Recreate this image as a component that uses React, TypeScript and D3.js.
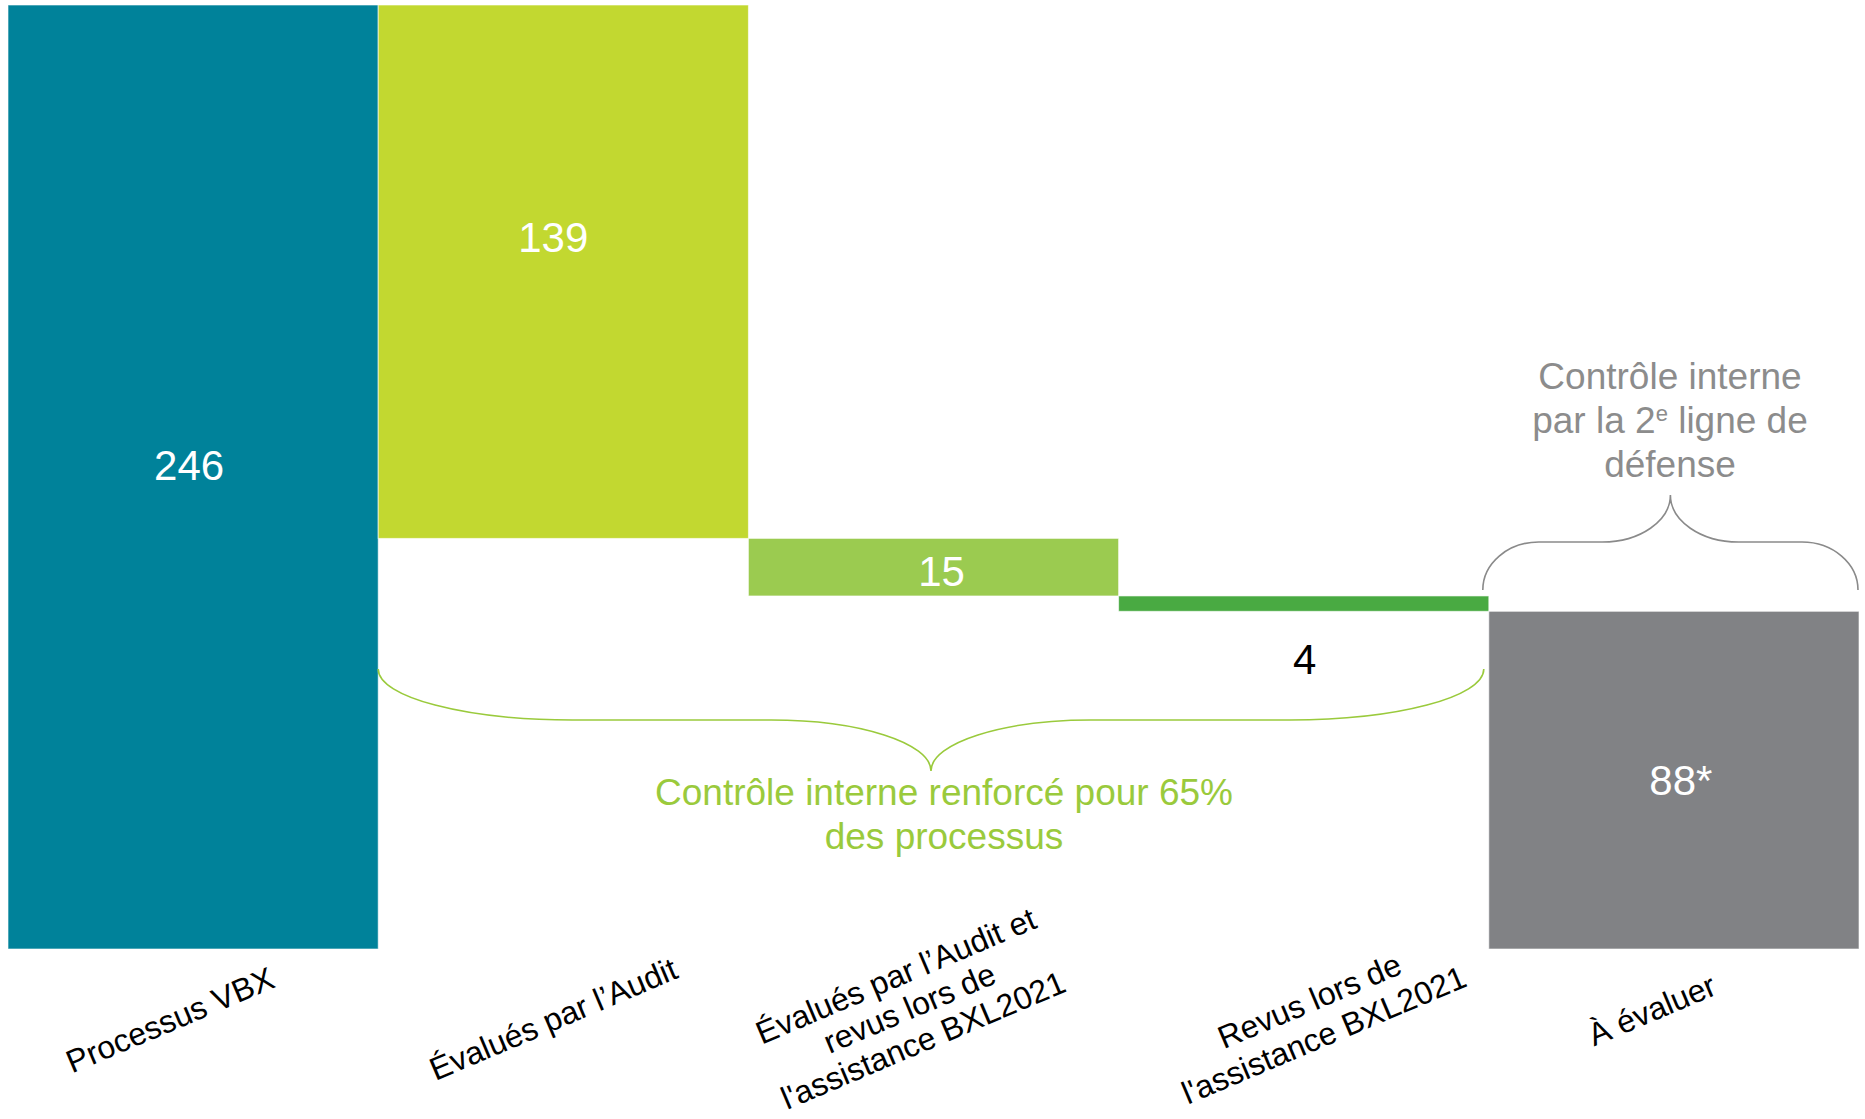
import React from "react";
import * as d3 from "d3";

const categories: string[][] = [
  ["Processus VBX"],
  ["Évalués par l’Audit"],
  ["Évalués par l’Audit et", "revus lors de", "l'assistance BXL2021"],
  ["Revus lors de", "l'assistance BXL2021"],
  ["À évaluer"],
];
const values = [246, 139, 15, 4, 88];
const valueLabels = ["246", "139", "15", "4", "88*"];
const kinds = ["total", "step", "step", "step", "rest"];
const colors = ["#00829A", "#C2D830", "#9BCB50", "#49AA42", "#818285"];
const labelColors = ["#ffffff", "#ffffff", "#ffffff", "#000000", "#ffffff"];

const W = 1865;
const H = 1119;

// layout nudges (px) for text placement
const valueNudgeX = [-4, -10, 8, 1, 7];
const valueNudgeY = [-12, -34, 4, 56, 0];
const catNudge = [
  [-23, 3],
  [-10, 2],
  [-24, -9],
  [13, 1],
  [-22, -7],
];

function bracePath(x0: number, x1: number, yEnd: number, yMid: number, yTip: number, rxEnd: number, rxTip: number) {
  const k = 0.552;
  const xm = (x0 + x1) / 2;
  const p = d3.path();
  p.moveTo(x0, yEnd);
  p.bezierCurveTo(x0, yEnd + k * (yMid - yEnd), x0 + rxEnd - k * rxEnd, yMid, x0 + rxEnd, yMid);
  p.lineTo(xm - rxTip, yMid);
  p.bezierCurveTo(xm - rxTip + k * rxTip, yMid, xm, yTip - k * (yTip - yMid), xm, yTip);
  p.bezierCurveTo(xm, yTip - k * (yTip - yMid), xm + rxTip - k * rxTip, yMid, xm + rxTip, yMid);
  p.lineTo(x1 - rxEnd, yMid);
  p.bezierCurveTo(x1 - rxEnd + k * rxEnd, yMid, x1, yEnd + k * (yMid - yEnd), x1, yEnd);
  return p.toString();
}

export default function App() {
  const x = d3
    .scaleBand<number>()
    .domain(values.map((_, i) => i))
    .range([8, 1859])
    .padding(0);
  const y = d3.scaleLinear().domain([0, 246]).range([949, 5]);

  let running = values[0];
  const spans = values.map((v, i) => {
    if (kinds[i] === "total") return [0, v];
    if (kinds[i] === "rest") return [0, v];
    const top = running;
    running -= v;
    return [running, top];
  });

  const font = '"Liberation Sans", Arial, Helvetica, sans-serif';
  const bw = x.bandwidth();

  return (
    <svg
      width={W}
      height={H}
      style={{ position: "absolute", left: 0, top: 0, background: "#ffffff", fontFamily: font }}
    >
      {values.map((v, i) => {
        const [lo, hi] = spans[i];
        const x0 = x(i)!;
        const yTop = y(hi);
        const yBot = y(lo);
        return (
          <g key={i}>
            <rect
              x={x0}
              y={yTop}
              width={bw}
              height={yBot - yTop}
              fill={colors[i]}
              stroke="#ffffff"
              strokeOpacity={0.6}
              strokeWidth={1}
            />
            <text
              x={x0 + bw / 2 + valueNudgeX[i]}
              y={(yTop + yBot) / 2 + valueNudgeY[i]}
              textAnchor="middle"
              dominantBaseline="central"
              fontSize={42}
              fill={labelColors[i]}
              style={{ fontFamily: font }}
            >
              {valueLabels[i]}
            </text>
          </g>
        );
      })}

      {categories.map((lines, i) => {
        const cx = x(i)! + bw / 2 + catNudge[i][0];
        const cy = 1017 + catNudge[i][1];
        const lh = lines.length > 2 ? 35 : 37;
        return (
          <g key={"c" + i} transform={`translate(${cx},${cy}) rotate(-23)`}>
            {lines.map((ln, j) => (
              <text
                key={j}
                x={0}
                y={(j - (lines.length - 1) / 2) * lh}
                textAnchor="middle"
                dominantBaseline="central"
                fontSize={32}
                fill="#000000"
                style={{ fontFamily: font }}
              >
                {ln}
              </text>
            ))}
          </g>
        );
      })}

      <path
        d={bracePath(x(1)!, x(3)! + bw - 5, 669, 720, 771, 194, 160)}
        fill="none"
        stroke="#9ACA3C"
        strokeWidth={1.6}
      />
      <text x={944} y={805} textAnchor="middle" fontSize={37} fill="#9ACA3C" style={{ fontFamily: font }}>
        Contrôle interne renforcé pour 65%
      </text>
      <text x={944} y={849} textAnchor="middle" fontSize={37} fill="#9ACA3C" style={{ fontFamily: font }}>
        des processus
      </text>

      <path
        d={bracePath(x(4)! - 6, x(4)! + bw - 1, 590, 542, 495, 56, 68)}
        fill="none"
        stroke="#8A8A8A"
        strokeWidth={1.6}
      />
      <text x={1670} y={389} textAnchor="middle" fontSize={37} fill="#8C8C8C" style={{ fontFamily: font }}>
        Contrôle interne
      </text>
      <text x={1670} y={433} textAnchor="middle" fontSize={37} fill="#8C8C8C" style={{ fontFamily: font }}>
        par la 2<tspan baselineShift="super" fontSize={22}>e</tspan> ligne de
      </text>
      <text x={1670} y={477} textAnchor="middle" fontSize={37} fill="#8C8C8C" style={{ fontFamily: font }}>
        défense
      </text>
    </svg>
  );
}
